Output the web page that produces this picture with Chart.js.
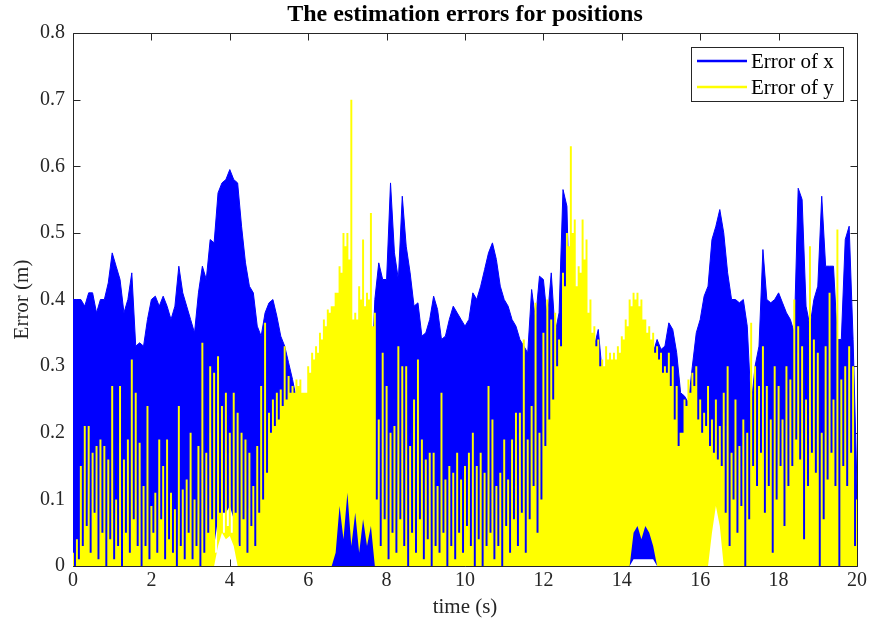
<!DOCTYPE html>
<html>
<head>
<meta charset="utf-8">
<script src="https://cdn.jsdelivr.net/npm/chart.js@4/dist/chart.umd.min.js"></script>
<style>
  html, body { margin: 0; padding: 0; background: #fff; }
</style>
</head>
<body>
<canvas id="errChart" width="870" height="632"></canvas>
<script>
// samples every 0.1 s (t = 0 ... 20)
var TIME_STEP = 0.1;

// Error of x : top of the blue band and its bottom edge
var errXHigh = [
  0.40, 0.40, 0.40, 0.39, 0.41, 0.41, 0.38, 0.40, 0.40, 0.425,
  0.47, 0.45, 0.43, 0.38, 0.40, 0.44, 0.33, 0.335, 0.33, 0.37,
  0.40, 0.405, 0.39, 0.405, 0.39, 0.37, 0.39, 0.45, 0.41, 0.39,
  0.37, 0.35, 0.41, 0.45, 0.43, 0.49, 0.485, 0.56, 0.575, 0.58,
  0.595, 0.58, 0.575, 0.51, 0.455, 0.42, 0.41, 0.36, 0.345, 0.38,
  0.395, 0.40, 0.375, 0.345, 0.33, 0.305, 0.28, 0.25, 0.24, 0.24,
  0.25, 0.25, 0.25, 0.25, 0.25, 0.25, 0.25, 0.25, 0.25, 0.25,
  0.25, 0.25, 0.25, 0.25, 0.25, 0.25, 0.25, 0.40, 0.455, 0.43,
  0.43, 0.575, 0.47, 0.43, 0.555, 0.48, 0.44, 0.39, 0.395, 0.345,
  0.35, 0.37, 0.405, 0.385, 0.34, 0.345, 0.37, 0.39, 0.38, 0.37,
  0.36, 0.37, 0.41, 0.40, 0.42, 0.445, 0.47, 0.485, 0.46, 0.42,
  0.40, 0.39, 0.37, 0.36, 0.34, 0.33, 0.32, 0.415, 0.37, 0.435,
  0.43, 0.37, 0.44, 0.35, 0.38, 0.565, 0.54, 0.30, 0.28, 0.28,
  0.28, 0.28, 0.28, 0.33, 0.355, 0.29, 0.28, 0.28, 0.28, 0.28,
  0.28, 0.28, 0.30, 0.28, 0.28, 0.28, 0.28, 0.30, 0.32, 0.34,
  0.325, 0.33, 0.365, 0.355, 0.32, 0.26, 0.255, 0.245, 0.30, 0.35,
  0.37, 0.405, 0.42, 0.49, 0.51, 0.535, 0.50, 0.44, 0.40, 0.40,
  0.395, 0.40, 0.36, 0.24, 0.30, 0.33, 0.475, 0.40, 0.395, 0.40,
  0.41, 0.395, 0.38, 0.37, 0.35, 0.567, 0.55, 0.39, 0.36, 0.40,
  0.42, 0.555, 0.45, 0.45, 0.45, 0.34, 0.34, 0.49, 0.51, 0.34,
  0.12
];
var errXLow = [
  0, 0, 0, 0, 0, 0, 0, 0, 0, 0,
  0, 0, 0, 0, 0, 0, 0, 0, 0, 0,
  0, 0, 0, 0, 0, 0, 0, 0, 0, 0,
  0, 0, 0, 0, 0, 0, 0.03, 0.07, 0.08, 0.08,
  0.09, 0.07, 0.04, 0, 0, 0, 0, 0, 0, 0,
  0, 0, 0, 0, 0, 0, 0, 0, 0, 0,
  0, 0, 0, 0, 0, 0, 0, 0, 0, 0,
  0, 0, 0, 0, 0, 0, 0, 0, 0, 0,
  0, 0, 0, 0, 0, 0, 0, 0, 0, 0,
  0, 0, 0, 0, 0, 0, 0, 0, 0, 0,
  0, 0, 0, 0, 0, 0, 0, 0, 0, 0,
  0, 0, 0, 0, 0, 0, 0, 0, 0, 0,
  0, 0, 0, 0, 0, 0, 0, 0, 0, 0,
  0, 0, 0, 0, 0, 0, 0, 0, 0, 0,
  0, 0, 0, 0.01, 0.01, 0.01, 0.01, 0.01, 0.01, 0,
  0, 0, 0, 0, 0, 0, 0, 0, 0, 0,
  0, 0, 0.03, 0.09, 0.12, 0.07, 0.02, 0, 0, 0,
  0, 0, 0, 0, 0, 0, 0, 0, 0, 0,
  0, 0, 0, 0, 0, 0, 0, 0, 0, 0,
  0, 0, 0, 0, 0, 0, 0, 0, 0, 0,
  0
];

// Error of y : peaks at t = k*0.1, troughs half a step later, bottom edge
var errYPeak = [
  0.02, 0.04, 0.15, 0.21, 0.21, 0.17, 0.18, 0.19, 0.18, 0.16,
  0.27, 0.10, 0.27, 0.16, 0.19, 0.31, 0.26, 0.185, 0.12, 0.24,
  0.09, 0.11, 0.19, 0.15, 0.19, 0.11, 0.085, 0.24, 0.115, 0.13,
  0.20, 0.10, 0.18, 0.335, 0.17, 0.30, 0.29, 0.315, 0.24, 0.26,
  0.20, 0.26, 0.23, 0.20, 0.19, 0.17, 0.12, 0.18, 0.27, 0.365,
  0.23, 0.25, 0.26, 0.265, 0.33, 0.285, 0.27, 0.28, 0.28, 0.26,
  0.30, 0.32, 0.33, 0.35, 0.37, 0.385, 0.39, 0.41, 0.45, 0.50,
  0.50, 0.70, 0.38, 0.42, 0.49, 0.41, 0.53, 0.38, 0.22, 0.32,
  0.27, 0.20, 0.21, 0.33, 0.30, 0.30, 0.18, 0.25, 0.31, 0.19,
  0.16, 0.17, 0.17, 0.12, 0.26, 0.13, 0.15, 0.14, 0.17, 0.13,
  0.15, 0.17, 0.20, 0.15, 0.17, 0.14, 0.27, 0.22, 0.12, 0.14,
  0.19, 0.13, 0.19, 0.23, 0.23, 0.34, 0.19, 0.24, 0.395, 0.20,
  0.35, 0.40, 0.37, 0.38, 0.34, 0.44, 0.50, 0.63, 0.52, 0.45,
  0.52, 0.49, 0.40, 0.36, 0.34, 0.31, 0.33, 0.32, 0.32, 0.33,
  0.345, 0.37, 0.40, 0.41, 0.41, 0.40, 0.37, 0.36, 0.35, 0.33,
  0.32, 0.30, 0.32, 0.30, 0.27, 0.20, 0.25, 0.28, 0.29, 0.30,
  0.25, 0.23, 0.27, 0.22, 0.25, 0.21, 0.26, 0.30, 0.17, 0.25,
  0.18, 0.22, 0.20, 0.365, 0.30, 0.27, 0.33, 0.27, 0.22, 0.30,
  0.27, 0.22, 0.30, 0.28, 0.40, 0.36, 0.33, 0.25, 0.48, 0.34,
  0.32, 0.20, 0.33, 0.41, 0.25, 0.505, 0.28, 0.30, 0.33, 0.30,
  0.10
];
var errYTrough = [
  0.00, 0.01, 0.03, 0.06, 0.02, 0.08, 0.01, 0.05, 0.00, 0.04,
  0.01, 0.03, 0.00, 0.05, 0.02, 0.07, 0.03, 0.00, 0.03, 0.01,
  0.05, 0.02, 0.07, 0.01, 0.04, 0.02, 0.00, 0.03, 0.01, 0.05,
  0.01, 0.03, 0.00, 0.02, 0.05, 0.07, 0.02, 0.08, 0.05, 0.06,
  0.05, 0.08, 0.03, 0.07, 0.02, 0.06, 0.03, 0.08, 0.10, 0.14,
  0.20, 0.21, 0.22, 0.24, 0.25, 0.26, 0.26, 0.27, 0.26, 0.26,
  0.29, 0.31, 0.32, 0.34, 0.36, 0.38, 0.39, 0.41, 0.44, 0.48,
  0.46, 0.37, 0.37, 0.40, 0.39, 0.40, 0.36, 0.10, 0.03, 0.07,
  0.01, 0.05, 0.02, 0.07, 0.03, 0.00, 0.05, 0.02, 0.07, 0.01,
  0.04, 0.00, 0.03, 0.02, 0.05, 0.00, 0.03, 0.01, 0.05, 0.02,
  0.06, 0.03, 0.00, 0.04, 0.00, 0.03, 0.05, 0.01, 0.03, 0.00,
  0.06, 0.02, 0.07, 0.03, 0.08, 0.02, 0.07, 0.12, 0.05, 0.10,
  0.18, 0.22, 0.25, 0.30, 0.33, 0.42, 0.48, 0.50, 0.42, 0.44,
  0.46, 0.38, 0.35, 0.33, 0.30, 0.30, 0.31, 0.31, 0.31, 0.32,
  0.34, 0.36, 0.39, 0.40, 0.39, 0.37, 0.35, 0.34, 0.32, 0.31,
  0.29, 0.29, 0.27, 0.22, 0.18, 0.20, 0.24, 0.26, 0.27, 0.22,
  0.20, 0.21, 0.18, 0.17, 0.16, 0.15, 0.08, 0.03, 0.10, 0.05,
  0.09, 0.00, 0.07, 0.15, 0.12, 0.17, 0.08, 0.12, 0.02, 0.10,
  0.15, 0.06, 0.12, 0.15, 0.19, 0.16, 0.04, 0.12, 0.17, 0.14,
  0.00, 0.07, 0.13, 0.17, 0.12, 0.00, 0.15, 0.12, 0.17, 0.03
];
var errYLow = [
  0, 0, 0, 0, 0, 0, 0, 0, 0, 0,
  0, 0, 0, 0, 0, 0, 0, 0, 0, 0,
  0, 0, 0, 0, 0, 0, 0, 0, 0, 0,
  0, 0, 0, 0, 0, 0, 0, 0.03, 0.05, 0.04,
  0.045, 0.03, 0, 0, 0, 0, 0, 0, 0, 0,
  0, 0, 0, 0, 0, 0, 0, 0, 0, 0,
  0, 0, 0, 0, 0, 0, 0, 0.02, 0.09, 0.04,
  0.11, 0.03, 0.08, 0.02, 0.07, 0.03, 0.06, 0, 0, 0,
  0, 0, 0, 0, 0, 0, 0, 0, 0, 0,
  0, 0, 0, 0, 0, 0, 0, 0, 0, 0,
  0, 0, 0, 0, 0, 0, 0, 0, 0, 0,
  0, 0, 0, 0, 0, 0, 0, 0, 0, 0,
  0, 0, 0, 0, 0, 0, 0, 0, 0, 0,
  0, 0, 0, 0, 0, 0, 0, 0, 0, 0,
  0, 0, 0, 0.05, 0.06, 0.04, 0.06, 0.05, 0.03, 0,
  0, 0, 0, 0, 0, 0, 0, 0, 0, 0,
  0, 0, 0, 0.05, 0.09, 0.06, 0, 0, 0, 0,
  0, 0, 0, 0, 0, 0, 0, 0, 0, 0,
  0, 0, 0, 0, 0, 0, 0, 0, 0, 0,
  0, 0, 0, 0, 0, 0, 0, 0, 0, 0,
  0
];

var seriesLabels = ['Error of x', 'Error of y'];
var seriesColors = ['#0000ff', '#ffff00'];
var axisColor = '#262626';
var serif = "'Liberation Serif', 'DejaVu Serif', serif";

function toPoints(values){
    return values.map(function(v, i){
        return {x: i * TIME_STEP, y: v};
    });
}

// peak, trough, peak, ... the samples are alternated, nothing is computed
function zigzag(peaks, troughs){
    var pts = [];
    peaks.forEach(function(v, i){
        pts.push({x: i * TIME_STEP, y: v});
        if(i < troughs.length){
            pts.push({x: (i + 0.5) * TIME_STEP, y: troughs[i]});
        }
    });
    return pts;
}

// matlab style box: inward ticks on all four sides, under the data
var axesBox = {
    id: 'axesBox',
    beforeDatasetsDraw: function(chart){
        var ctx = chart.ctx, a = chart.chartArea;
        var xs = chart.scales.x, ys = chart.scales.y;
        var tick = 7;
        var l = Math.round(a.left) + 0.5, r = Math.round(a.right) + 0.5;
        var t = Math.round(a.top) + 0.5, b = Math.round(a.bottom) + 0.5;
        ctx.save();
        ctx.strokeStyle = axisColor;
        ctx.lineWidth = 1;
        ctx.beginPath();
        ctx.moveTo(l, t); ctx.lineTo(r, t); ctx.lineTo(r, b); ctx.lineTo(l, b); ctx.closePath();
        xs.ticks.forEach(function(tk){
            var px = Math.round(xs.getPixelForValue(tk.value)) + 0.5;
            ctx.moveTo(px, b); ctx.lineTo(px, b - tick);
            ctx.moveTo(px, t); ctx.lineTo(px, t + tick);
        });
        ys.ticks.forEach(function(tk){
            var py = Math.round(ys.getPixelForValue(tk.value)) + 0.5;
            ctx.moveTo(l, py); ctx.lineTo(l + tick, py);
            ctx.moveTo(r, py); ctx.lineTo(r - tick, py);
        });
        ctx.stroke();
        ctx.restore();
    },
    afterDraw: function(chart){
        var ctx = chart.ctx, a = chart.chartArea;
        var w = 152, h = 54;
        var right = Math.round(a.right) - 14, top = Math.round(a.top) + 14;
        var left = right - w;
        ctx.save();
        ctx.fillStyle = '#fff';
        ctx.fillRect(left, top, w, h);
        ctx.strokeStyle = axisColor;
        ctx.lineWidth = 1;
        ctx.strokeRect(left + 0.5, top + 0.5, w, h);
        seriesLabels.forEach(function(lbl, i){
            var y = top + 14 + i * 26;
            ctx.strokeStyle = seriesColors[i];
            ctx.lineWidth = 2.5;
            ctx.beginPath();
            ctx.moveTo(left + 6, y);
            ctx.lineTo(left + 56, y);
            ctx.stroke();
            ctx.fillStyle = '#000';
            ctx.font = '21px ' + serif;
            ctx.textBaseline = 'middle';
            ctx.textAlign = 'left';
            ctx.fillText(lbl, left + 60, y + 1);
        });
        ctx.restore();
    }
};

var canvas = document.getElementById('errChart').getContext('2d');
var chart = new Chart(canvas, {
    type: 'line',
    data: {
        datasets: [
            {
                label: 'x bottom',
                data: toPoints(errXLow),
                borderColor: 'rgba(0,0,0,0)',
                borderWidth: 1,
                fill: false,
                order: 1
            },
            {
                label: seriesLabels[0],
                data: toPoints(errXHigh),
                borderColor: seriesColors[0],
                backgroundColor: seriesColors[0],
                borderWidth: 1,
                fill: '-1',
                order: 1
            },
            {
                label: 'y bottom',
                data: toPoints(errYLow),
                borderColor: 'rgba(0,0,0,0)',
                borderWidth: 1,
                fill: false,
                order: 0
            },
            {
                label: seriesLabels[1],
                data: zigzag(errYPeak, errYTrough),
                borderColor: 'rgba(0,0,0,0)',
                backgroundColor: seriesColors[1],
                borderWidth: 1,
                stepped: 'middle',
                fill: '-1',
                order: 0
            }
        ]
    },
    options: {
        responsive: false,
        animation: false,
        events: [],
        layout: { padding: { left: 0, right: 13, top: 0, bottom: 0 } },
        elements: {
            line: { tension: 0 },
            point: { radius: 0 }
        },
        plugins: {
            legend: { display: false },
            tooltip: { enabled: false },
            title: {
                display: true,
                fullSize: false,
                text: 'The estimation errors for positions',
                color: '#000',
                font: { family: serif, size: 24, weight: 'bold', lineHeight: '26px' },
                padding: { top: 2, bottom: 5 }
            }
        },
        scales: {
            x: {
                type: 'linear',
                min: 0,
                max: 20,
                grid: { display: false, drawTicks: false },
                border: { display: false },
                ticks: { stepSize: 2, padding: 3, color: axisColor, font: { family: serif, size: 20 } },
                title: { display: true, text: 'time (s)', color: axisColor, font: { family: serif, size: 21 }, padding: { top: 0, bottom: 12 } },
                afterFit: function(scale){ scale.height = 66; }
            },
            y: {
                type: 'linear',
                min: 0,
                max: 0.8,
                grid: { display: false, drawTicks: false },
                border: { display: false },
                ticks: { stepSize: 0.1, padding: 8, color: axisColor, font: { family: serif, size: 20 } },
                title: { display: true, text: 'Error (m)', color: axisColor, font: { family: serif, size: 21 }, padding: { top: 10, bottom: 0 } },
                afterFit: function(scale){ scale.width = 73; }
            }
        }
    },
    plugins: [axesBox]
});
</script>
</body>
</html>
